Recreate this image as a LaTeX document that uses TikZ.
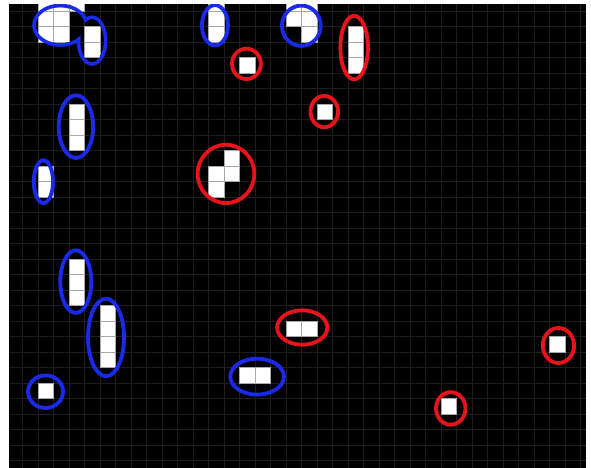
\documentclass[tikz,border=0pt]{standalone}
\usepackage{tikz}
\definecolor{ringblue}{HTML}{1A2AEA}
\definecolor{ringred}{HTML}{E8141C}
\definecolor{gridgray}{HTML}{1E1E1E}
\definecolor{celledge}{HTML}{A8A8A8}
\newcommand{\cellbox}[2]{%
  \draw[fill=white, draw=celledge, line width=0.5pt] (#1,#2) rectangle ++(1,-1);%
}
\newcommand{\ring}[5]{%
  \draw[#1, line width=3.5pt] (#2,#3) ellipse [x radius=#4, y radius=#5];%
}
\newcommand{\topleftcells}{%
  \foreach \k in {2,3,4} {\cellbox{\k}{1}}
  \foreach \k in {2,3} {\cellbox{\k}{0} \cellbox{\k}{-1}}
  \cellbox{5}{-1} \cellbox{5}{-2}%
}

\begin{document}
\begin{tikzpicture}[x=0.5cm, y=0.5cm,
    gridline/.style={draw=gridgray, line width=0.4pt}]
  \useasboundingbox (-0.44,-29.47) rectangle (37.69,0.72);
  \fill[black] (0.17,-29.47) rectangle (37.37,0.45);
  \begin{scope}
    \clip (0.17,-29.47) rectangle (37.37,0.45);
    \draw[gridline, step=1] (0.17,-29.47) grid (37.37,0.45);

    % white cells
    \topleftcells
    \foreach \y in {1,0,-1} {\cellbox{13}{\y}}
    \cellbox{18}{1} \cellbox{19}{1} \cellbox{18}{0} \cellbox{19}{0} \cellbox{19}{-1}
    \foreach \y in {-1,-2,-3} {\cellbox{22}{\y}}
    \cellbox{15}{-3}
    \cellbox{20}{-6}
    \foreach \y in {-6,-7,-8} {\cellbox{4}{\y}}
    \cellbox{2}{-10} \cellbox{2}{-11}
    \cellbox{14}{-9} \cellbox{13}{-10} \cellbox{14}{-10} \cellbox{13}{-11}
    \foreach \y in {-16,-17,-18} {\cellbox{4}{\y}}
    \foreach \y in {-19,...,-22} {\cellbox{6}{\y}}
    \cellbox{2}{-24}
    \cellbox{15}{-23} \cellbox{16}{-23}
    \cellbox{18}{-20} \cellbox{19}{-20}
    \cellbox{35}{-21}
    \cellbox{28}{-25}

    % blue rings
    \ring{ringblue}{3.45}{-0.91}{1.69}{1.27}
    \ring{ringblue}{5.5}{-1.9}{0.87}{1.5}
    \ring{ringblue}{13.43}{-0.91}{0.84}{1.3}
    \ring{ringblue}{19.0}{-0.94}{1.25}{1.3}
    \ring{ringblue}{4.46}{-7.45}{1.11}{2.02}
    \ring{ringblue}{2.36}{-11.0}{0.62}{1.38}
    \ring{ringblue}{4.45}{-17.45}{1.0}{2.02}
    \ring{ringblue}{6.4}{-21.05}{1.16}{2.5}
    \ring{ringblue}{2.5}{-24.55}{1.13}{1.05}
    \ring{ringblue}{16.15}{-23.58}{1.73}{1.16}

    % the two top-left rings share one outline
    \begin{scope}
      \clip (3.45,-0.91) ellipse [x radius=1.57, y radius=1.15]
            (5.5,-1.9) ellipse [x radius=0.75, y radius=1.38];
      \fill[black] (1,-5) rectangle (7,1);
      \draw[gridline, step=1] (0.17,-5) grid (7,1);
      \topleftcells
    \end{scope}

    % red rings
    \ring{ringred}{15.46}{-3.40}{0.93}{0.98}
    \ring{ringred}{22.41}{-2.35}{0.89}{2.05}
    \ring{ringred}{20.48}{-6.48}{0.89}{1.01}
    \ring{ringred}{14.14}{-10.5}{1.83}{1.88}
    \ring{ringred}{19.06}{-20.41}{1.62}{1.11}
    \ring{ringred}{35.59}{-21.57}{1.01}{1.13}
    \ring{ringred}{28.64}{-25.63}{0.95}{1.05}
  \end{scope}
\end{tikzpicture}
\end{document}
